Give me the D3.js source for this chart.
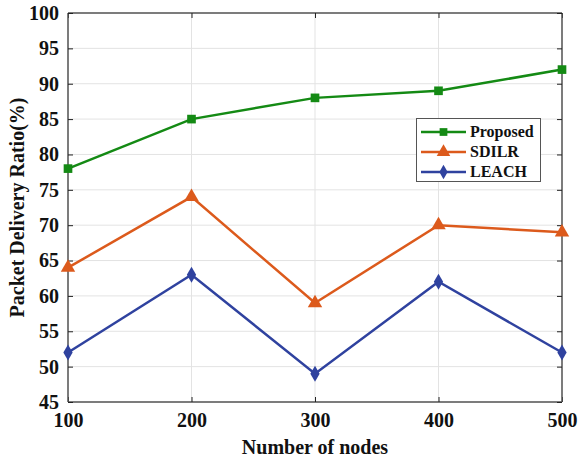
<!DOCTYPE html>
<html><head><meta charset="utf-8">
<script src="https://cdn.jsdelivr.net/npm/d3@7"></script>
<style>body{margin:0;background:#fff}svg text{font-family:"Liberation Serif","Times New Roman",serif;font-weight:bold}</style>
</head><body><svg id="c" width="580" height="457"></svg>
<script>
const nodes = [100, 200, 300, 400, 500];
const proposed = [78, 85, 88, 89, 92];
const sdilr = [64, 74, 59, 70, 69];
const leach = [52, 63, 49, 62, 52];
const yTicks = [45, 50, 55, 60, 65, 70, 75, 80, 85, 90, 95, 100];
const seriesNames = ["Proposed", "SDILR", "LEACH"];
const seriesColors = ["#148a14", "#dc5a1c", "#2f429f"];
const seriesSymbols = [d3.symbolSquare, d3.symbolTriangle, d3.symbolDiamond];

const svg = d3.select("#c");
const L = 68, R = 562, T = 13, B = 402;
const x = d3.scaleLinear().domain([100, 500]).range([L, R]);
const y = d3.scaleLinear().domain([45, 100]).range([B, T]);

// grid
const g = svg.append("g");
g.selectAll(".gx").data(nodes).enter().append("line")
  .attr("x1", d => x(d)).attr("x2", d => x(d)).attr("y1", T).attr("y2", B)
  .attr("stroke", "#e3e3e3").attr("stroke-width", 1);
g.selectAll(".gy").data(yTicks).enter().append("line")
  .attr("y1", d => y(d)).attr("y2", d => y(d)).attr("x1", L).attr("x2", R)
  .attr("stroke", "#e3e3e3").attr("stroke-width", 1);

// axes with inward ticks
const axB = svg.append("g").attr("transform", `translate(0,${B})`)
  .call(d3.axisBottom(x).tickValues(nodes).tickSize(-5).tickPadding(11).tickFormat(d3.format("d")));
const axT = svg.append("g").attr("transform", `translate(0,${T})`)
  .call(d3.axisTop(x).tickValues(nodes).tickSize(-5).tickFormat(""));
const axL = svg.append("g").attr("transform", `translate(${L},0)`)
  .call(d3.axisLeft(y).tickValues(yTicks).tickSize(-5).tickPadding(9));
const axR = svg.append("g").attr("transform", `translate(${R},0)`)
  .call(d3.axisRight(y).tickValues(yTicks).tickSize(-5).tickFormat(""));
[axB, axT, axL, axR].forEach(a => {
  a.select(".domain").attr("stroke", "#555").attr("stroke-width", 1.5);
  a.selectAll(".tick line").attr("stroke", "#222");
  a.selectAll("text").attr("font-size", 20).attr("fill", "#111")
    .style("font-family", '"Liberation Serif", serif').style("font-weight", "bold");
});
axB.selectAll(".domain").attr("d", `M${L},0H${R}`);
axL.selectAll(".domain").attr("d", `M0,${B}V${T}`);
axT.selectAll(".domain").attr("d", `M${L},0H${R}`);
axR.selectAll(".domain").attr("d", `M0,${B}V${T}`);

// series
const data = [proposed, sdilr, leach];
const line = d3.line().x((d, i) => x(nodes[i])).y(d => y(d));
data.forEach((vals, k) => {
  svg.append("path").datum(vals).attr("d", line).attr("fill", "none")
    .attr("stroke", seriesColors[k]).attr("stroke-width", 2.5);
  svg.selectAll(".m" + k).data(vals).enter().append("path")
    .attr("transform", (d, i) => `translate(${x(nodes[i])},${y(d)})`)
    .attr("d", d3.symbol().type(seriesSymbols[k]).size(k === 1 ? 90 : 75))
    .attr("fill", seriesColors[k]);
});

// legend
const lg = svg.append("g");
lg.append("rect").attr("x", 416.5).attr("y", 118.5).attr("width", 124).attr("height", 63)
  .attr("fill", "#fff").attr("stroke", "#555").attr("stroke-width", 1);
seriesNames.forEach((n, k) => {
  const yy = 132 + k * 20;
  lg.append("line").attr("x1", 421).attr("x2", 466).attr("y1", yy).attr("y2", yy)
    .attr("stroke", seriesColors[k]).attr("stroke-width", 2.5);
  lg.append("path").attr("transform", `translate(443.5,${yy})`)
    .attr("d", d3.symbol().type(seriesSymbols[k]).size(k === 1 ? 80 : 60))
    .attr("fill", seriesColors[k]);
  lg.append("text").attr("x", 470).attr("y", yy + 5).attr("font-size", 16).attr("fill", "#111").text(n);
});

// labels
svg.append("text").attr("x", (L + R) / 2).attr("y", 454).attr("text-anchor", "middle")
  .attr("font-size", 20).attr("fill", "#111").text("Number of nodes");
svg.append("text").attr("transform", `translate(24,${(T + B) / 2}) rotate(-90)`)
  .attr("text-anchor", "middle").attr("font-size", 20).attr("fill", "#111").text("Packet Delivery Ratio(%)");
</script></body></html>
